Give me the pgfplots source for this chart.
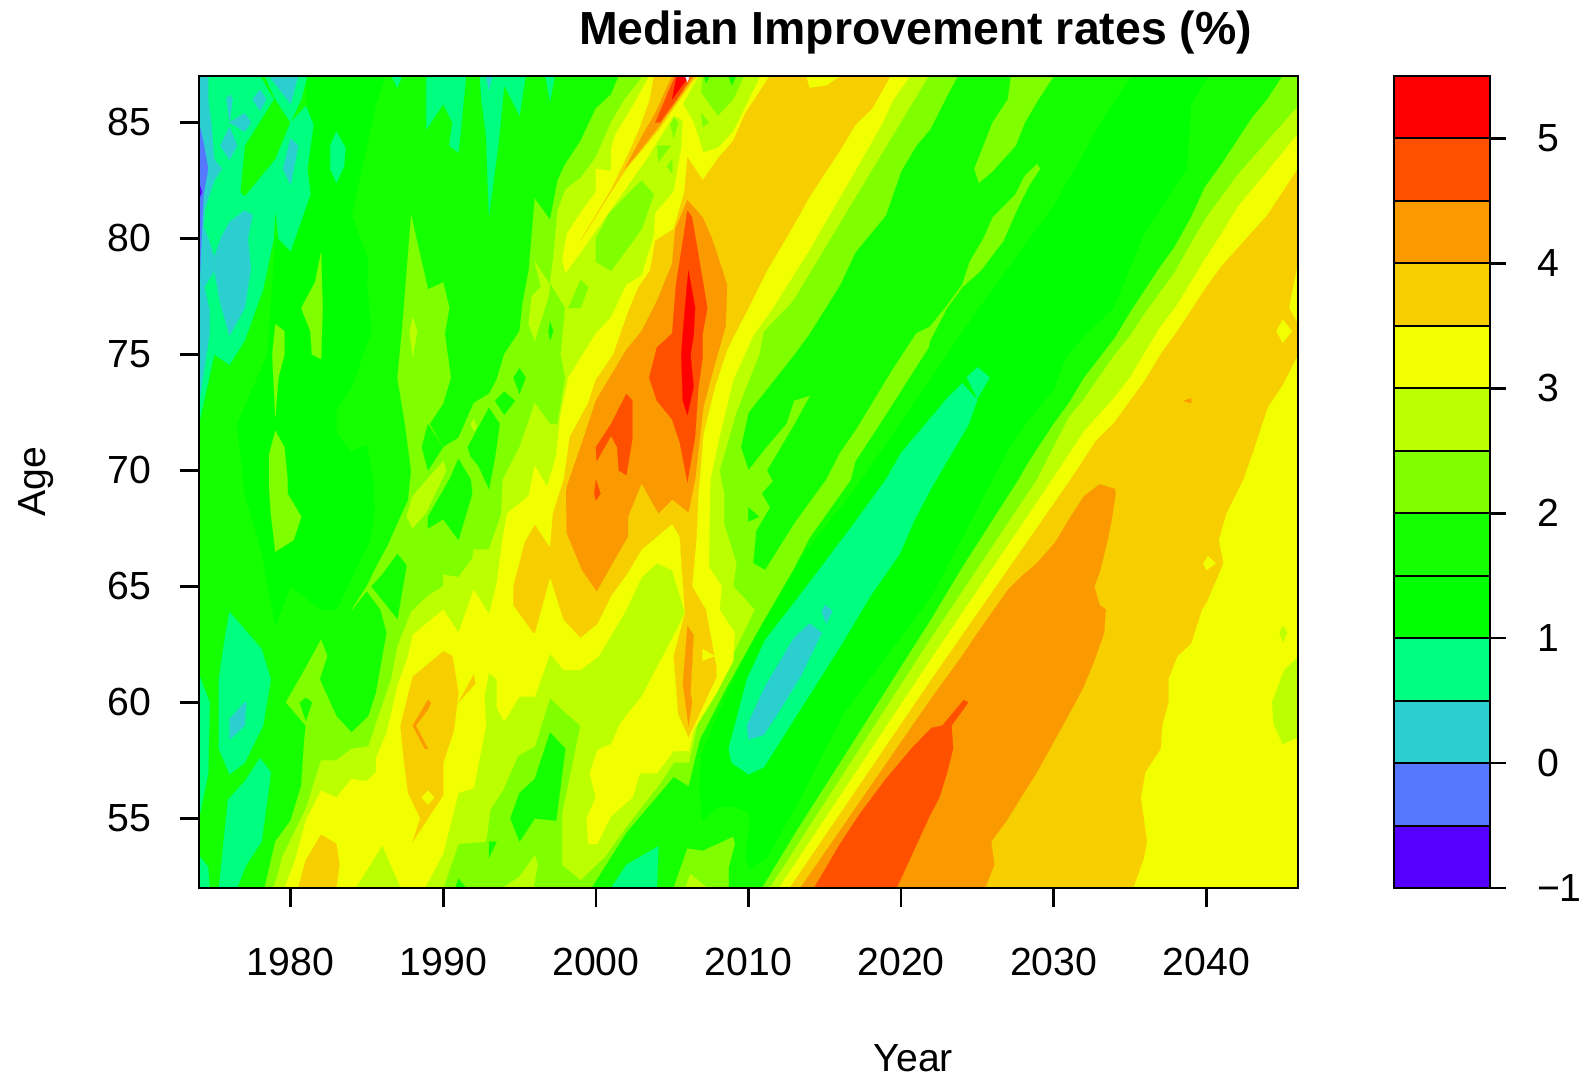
\documentclass[border=0pt]{standalone}
\usepackage{pgfplots}
\pgfplotsset{compat=1.18}
\usepackage{fontspec}
\setmainfont{Liberation Sans}
\definecolor{cA}{HTML}{5500FF}
\definecolor{cB}{HTML}{5578FF}
\definecolor{cC}{HTML}{2CCFCF}
\definecolor{cD}{HTML}{00FF80}
\definecolor{cE}{HTML}{00FF00}
\definecolor{cF}{HTML}{14FF00}
\definecolor{cG}{HTML}{80FF00}
\definecolor{cH}{HTML}{BBFF00}
\definecolor{cI}{HTML}{F2FF00}
\definecolor{cJ}{HTML}{F7CF00}
\definecolor{cK}{HTML}{FA9A00}
\definecolor{cL}{HTML}{FF5000}
\definecolor{cM}{HTML}{FF0000}
\newcommand{\band}[2]{\addplot[draw=#1,line width=0.1pt,fill=#1] coordinates {#2} -- cycle;}
\newcommand{\barseg}[3]{\addplot[draw=black,line width=1pt,fill=#1] coordinates {(0,#2)(1,#2)(1,#3)(0,#3)} -- cycle;}
\newcommand{\lab}{\fontsize{19.6pt}{23pt}\selectfont}
\begin{document}
\begin{tikzpicture}[x=1pt,y=1pt]
\useasboundingbox (0,0) rectangle (792,538.5);
\begin{axis}[
  at={(99.5pt,94.5pt)},anchor=south west,scale only axis,width=549.5pt,height=406pt,
  xmin=1974,xmax=2046,ymin=52,ymax=87,axis on top,
  axis line style={line width=1.3pt},
  tick style={line width=1.3pt,black},tickwidth=9.5pt,tick align=outside,
  xtick={1980,1990,2000,2010,2020,2030,2040},ytick={55,60,65,70,75,80,85},
  xtick pos=lower,ytick pos=left,
  /pgf/number format/assume math mode=true,
  /pgf/number format/set thousands separator={},
  xticklabel style={font=\lab,yshift=-17pt},
  yticklabel style={font=\lab,xshift=-11pt},
  xlabel={Year},ylabel={Age},title={Median Improvement rates (\%)},
  xlabel style={font=\lab,at={(axis description cs:0.65,-0.209)},anchor=center},
  ylabel style={font=\lab,at={(axis description cs:-0.148,0.5)},anchor=center},
  title style={font=\fontsize{23.2pt}{27pt}\selectfont\bfseries,at={(axis description cs:0.652,1.0386)},anchor=center},
]
% base
\band{cF}{(1974,52)(2046,52)(2046,87)(1974,87)}
% below 1.5
\band{cE}{(2035.1,87)(2033.1,85)(2032,83.7)(2030,81.4)(2027,78.7)(2025,76.9)(2021.9,73.9)(2017,69.2)(2013,65.9)(2010.8,63.4)(2008,59.5)(2006.9,57.7)(2006.8,56.2)(2007,54.9)(2008,55.5)(2009,55.5)(2010,55.3)(2010.1,54.9)(2009.8,53.3)(2010.1,52.8)(2011.2,53.3)(2013.5,56)(2016.2,59.5)(2022,64.6)(2023,65.85)(2027,70.9)(2028,71.9)(2030,73.5)(2030.8,74.9)(2032,75.8)(2033.9,77)(2035.9,80.2)(2038.7,83)(2039,85.8)(2040.1,87)}
\band{cE}{(1981,87)(1986.2,87)(1985.6,85.8)(1985,84)(1984,81)(1985.1,79)(1985,78)(1985.3,76)(1984,73.6)(1983,72.6)(1983,71.6)(1984,70.8)(1985,71.1)(1985.4,69.6)(1985.5,68.2)(1985.2,67)(1983,64)(1982,64)(1980,65)(1979,63.3)(1978.1,66.5)(1977,69)(1976.5,72)(1978.5,75)(1979,80)(1981.3,82)}
% below 1
\band{cD}{(1974,72)(1975,75)(1976,74.55)(1977,75.6)(1978.2,77.8)(1978.9,80)(1979,81.3)(1979.2,80)(1980,79.45)(1981.3,81.9)(1981.1,83)(1981.5,84.9)(1981,85.7)(1980,85)(1979,83.4)(1977,81.8)(1976.7,82)(1977,84)(1978.9,86)(1978,87)(1974,87)}
\band{cD}{(1978.3,87)(1979,86)(1980,85)(1980.7,86)(1981.1,87)}
\band{cD}{(1974,61.2)(1974.7,60)(1974.6,56.9)(1974,55)}
\band{cD}{(1974,53.4)(1974.6,52.9)(1974.7,52)(1974,52)}
\band{cD}{(1976,63.9)(1978.1,62.3)(1978.7,61)(1978.2,59)(1977,57.4)(1976,56.9)(1975.3,58)(1975.3,61)(1975.7,62.8)}
\band{cD}{(1978,57.6)(1978.7,57)(1978.6,56.4)(1978.1,54)(1977.1,53)(1976.5,52)(1975.3,52)(1975.9,55.8)(1977,56.6)}
\band{cD}{(1988.9,87)(1988.9,84.7)(1990,85.8)(1990.6,85)(1990.4,84)(1991,83.7)(1991.5,87)}
\band{cD}{(1992.4,87)(1992.5,86)(1992.8,84.5)(1993,81)(1993.6,84)(1994,86.6)(1995,85.3)(1995.4,87)}
\band{cD}{(1996.7,87)(1997,85.9)(1997.3,87)}
\band{cD}{(1986.6,87)(1987,86.5)(1987.3,87)}
\band{cD}{(1982.6,84)(1983,84.6)(1983.6,83.9)(1983.5,83.1)(1983,82.4)(1982.6,83)}
\band{cD}{(2001,52)(2002,53)(2004.1,53.8)(2004,52)}
\band{cD}{(2010,56.9)(2008.9,57.4)(2008.7,58)(2009.9,61)(2011.1,62.7)(2013,64.3)(2016.9,67.7)(2019,69.6)(2020,70.75)(2022.5,72.7)(2023,73.1)(2024,73.75)(2025,73.05)(2024.4,71.95)(2023,70.4)(2021.9,69.15)(2020.9,67.9)(2019.9,66.4)(2018,64.6)(2016,62.4)(2013.4,59.7)(2011,57.2)}
\band{cD}{(2024.3,74)(2025,74.45)(2025.8,74)(2025,73.1)}
% below 0.5
\band{cC}{(1974,87)(1974.6,87)(1974.6,86)(1974.8,85)(1975,83.4)(1975.5,83)(1975,82.5)(1974.4,81.3)(1974.3,80.5)(1974.6,80)(1975,79.2)(1975,78.6)(1974.35,77.9)(1974.7,76.9)(1974.7,75.9)(1974,72.9)}
\band{cC}{(1976,80.7)(1977,81.2)(1977.5,81)(1977.2,80)(1977.4,78.7)(1977,77)(1976,75.8)(1975.4,77.2)(1975,78.6)(1975,79.2)(1975.5,80.1)}
\band{cC}{(1976,86.2)(1976.2,86)(1976,85)(1975.8,86)}
\band{cC}{(1977.5,86)(1978,86.4)(1978.4,86)(1978,85.5)}
\band{cC}{(1976,85)(1977,85.4)(1977.4,85)(1977,84.6)}
\band{cC}{(1975.4,84)(1976,84.8)(1976.5,84)(1976,83.4)}
\band{cC}{(1978.6,87)(1980,85.8)(1980.5,87)}
\band{cC}{(1979.5,83)(1980,84.3)(1980.5,84)(1980,82.3)}
\band{cC}{(1992.8,87)(1993,86.4)(1993.2,87)}
\band{cC}{(1977,60)(1977.1,60)(1977,59)(1976,58.4)(1976,59.3)}
\band{cC}{(2010,58.4)(2011,58.6)(2011.6,59.2)(2013.4,61.1)(2014.8,63)(2014,63.4)(2013,62.8)(2011.1,60.7)(2009.9,59)}
\band{cC}{(2014.8,63.9)(2015,64.2)(2015.5,63.95)(2015.1,63.4)}
% below 0, below -0.5
\band{cB}{(1974,85)(1974.3,84.1)(1974.6,83)(1974.3,81.9)(1974.1,79)(1974,77.5)}
\band{cA}{(1974,82.4)(1974.2,82)(1974,81.7)}
% 2 and above
\band{cG}{(1978.3,52)(1979,54)(1980,54.9)(1980.7,56.4)(1980.9,58.4)(1981,59)(1979.7,60)(1981,61.5)(1982,62.7)(1982.4,62)(1981.9,61)(1983,59.4)(1984,58.7)(1985.1,59.4)(1985.6,60.4)(1986.3,63)(1985.9,64)(1985,64.8)(1984,64)(1985,65)(1985.5,65.7)(1986.4,66.8)(1987,67.7)(1987.7,68.7)(1987.9,70)(1987.5,72)(1987,74)(1987.3,76)(1987.9,81)(1989,77.8)(1990,78.1)(1990.4,77)(1990.1,75.9)(1990.5,74)(1990,72.9)(1989.1,72)(1990,71)(1991,71.4)(1992,72.9)(1993,73.3)(1993.5,73.9)(1994,75)(1995,76)(1995.2,77.2)(1995.6,78.6)(1996,81.7)(1997,80.8)(1997.5,82.5)(1998,83.2)(1999,84.2)(2000,85.6)(2001,86.2)(2001.5,87)(2023.7,87)(2022.9,86)(2021.9,84.7)(2021,84)(2020,82.9)(2019,81)(2017,79.4)(2016,78)(2014,75.9)(2013,75)(2010,72.5)(2009.5,71)(2010,70)(2011.2,71)(2012.5,72)(2013,73)(2014,73.2)(2013,72)(2011.2,70)(2012,69)(2011.2,68.2)(2010.5,67.4)(2010.3,66)(2011.1,65.7)(2013,67.7)(2015.1,69.6)(2016,70.75)(2017.1,71.8)(2019.5,74.4)(2021,75.9)(2021.9,76.2)(2023,77.1)(2024,78)(2024.5,79)(2025.4,80)(2026,80.9)(2027.5,81.9)(2028.1,82.7)(2028.9,83.2)(2029.1,83)(2028.4,82.3)(2027.7,81.4)(2026.7,79.9)(2025.2,78.6)(2024,77.9)(2023,77)(2021.9,75.6)(2021.8,75.3)(2018.4,71.8)(2017,70.4)(2016.7,69.6)(2014,67.1)(2013,65.8)(2010.8,63.3)(2008.6,60.7)(2006.8,58.4)(2006.07,56.4)(2005.1,56.8)(2002,54.4)(1999.7,52)}
\band{cG}{(2045,87)(2044,86)(2043,85.2)(2042,84.2)(2041,83.2)(2039.9,82.2)(2039,80.9)(2037.9,79.6)(2037,78.8)(2035,76.8)(2034,75.7)(2032,74)(2031,72.9)(2030,72)(2028.4,70.4)(2027.7,69.6)(2024,65.8)(2021.9,63.5)(2016.4,57.8)(2013.2,54.5)(2010.9,52)(2046,52)(2046,87)}
\band{cG}{(2027.2,87)(2027,86)(2026,85)(2024.8,83)(2025.1,82.4)(2026,82.9)(2027.5,84)(2028.1,85)(2029,86)(2030,87)}
\band{cG}{(1980.7,77)(1981.6,78.1)(1982,79.4)(1982.1,77)(1982,74.8)(1981.4,75)(1981.3,76)}
\band{cG}{(1978.8,75)(1979,76.3)(1979.6,76)(1979.6,75)(1979.2,74)(1979,72.3)}
\band{cG}{(1979,71.7)(1978.6,70.7)(1978.6,69.2)(1978.7,68.2)(1979,66.5)(1980.2,67)(1980.7,68)(1979.8,69)(1979.8,69.6)(1979.6,71)}
\band{cG}{(2006,53.7)(2007,53.6)(2009,54.2)(2009.1,53.9)(2008.7,52.9)(2008.7,52)(2005.1,52)}
% holes in the 2 band
\band{cF}{(1985.3,65)(1986,65.5)(1987,66.4)(1987.6,65.9)(1987,63.6)}
\band{cF}{(1980.6,60)(1981,60.2)(1981.4,60)(1981,59.2)}
\band{cF}{(1994.4,55)(1995,56.1)(1996,56.7)(1997,58.7)(1998,58)(1997.4,54.9)(1996,55)(1995,54)}
\band{cF}{(1993,54)(1993.5,54)(1993,53.3)}
\band{cF}{(1990.8,52)(1991,52.4)(1991.5,52)}
\band{cF}{(1991,70.5)(1990.4,69.6)(1989,68)(1989,67.5)(1990,67.9)(1991,67)(1991.9,69)(1991.8,69.6)}
\band{cF}{(1991.6,71)(1993,72.7)(1993.7,72)(1993.4,70.6)(1993,69.2)(1992.3,70.2)(1991.8,70.6)}
\band{cF}{(1994.6,74)(1995,74.4)(1995.4,74)(1995,73.3)}
\band{cF}{(1993.4,73)(1994,73.4)(1994.7,73)(1994,72.4)}
\band{cF}{(1989,72)(1990,71)(1989,70)(1988.6,71)}
\band{cF}{(1996.9,76)(1997,76.4)(1997.2,76)(1997,75.6)}
\band{cF}{(2010.9,69)(2011.7,69.6)(2012.4,69)(2011.6,68.2)}
\band{cF}{(2010,68.4)(2010.7,68)(2010,67.8)}
% 2.5 and above
\band{cH}{(1978.9,52)(1979.5,53.4)(1981,55.4)(1982,57.5)(1983,57.5)(1984,58)(1985.1,58.1)(1985.6,59.1)(1986.6,61)(1987,62.4)(1987.9,63.9)(1989,64.6)(1990,65)(1990,65.5)(1991,65.4)(1991.9,66.2)(1992,66.6)(1993,66.6)(1993.8,68.1)(1993.9,69.6)(1995,71)(1996,72.9)(1997,72)(1997.5,72)(1998,74)(1997.7,75)(1998,77)(1997,78.1)(1997.2,79.1)(1997.5,81.2)(1998,82.1)(1999,82.6)(2000,83.5)(2001,85)(2001.9,86)(2003.1,87)(2021.8,87)(2019.5,84.5)(2016.2,80.9)(2012.9,77.3)(2011,76)(2010.7,75)(2009.2,72.5)(2008.1,70)(2008.4,69)(2008.4,67.7)(2009.2,66)(2009,65)(2010.4,64)(2009,62.1)(2006.8,59.5)(2006.1,57.4)(2005.1,57.4)(2004.2,56.5)(2002,54.65)(2000.6,53.35)(1999,52.35)(1997.8,53)(1997.8,55.2)(1998.5,57.4)(1999,59)(1997.7,59.75)(1997,60.2)(1996,58.1)(1994.9,57.7)(1993.9,56.2)(1993.1,55.4)(1992.8,54)(1991,53.9)(1990,52)}
\band{cH}{(2046,85.7)(2042,82.7)(2040,80.9)(2039,79.8)(2037.9,78.5)(2036,76.8)(2035,75.8)(2033.9,74.9)(2031.9,73)(2031,72.3)(2028.9,69.6)(2021.9,62.7)(2011.4,52)(2046,52)}
\band{cH}{(1987.6,68)(1988,68.9)(1990,70.4)(1990.2,70)(1988.9,68.2)(1988,67.5)}
\band{cH}{(1995.6,76.3)(1995.8,77.5)(1996.4,77.9)(1996,79)(1997,78)(1996.9,77.5)(1996,75.6)}
\band{cH}{(1987.8,76)(1988,76.6)(1988.3,76)(1988,74.9)}
\band{cH}{(1991.8,72)(1992,72.2)(1992.2,71.9)(1992,71.7)}
\band{cH}{(1993.9,52)(1995,52.5)(1996,53.4)(1996.2,53)(1995.9,52)}
\band{cH}{(2005.85,52)(2006.2,52.6)(2007.3,52)}
% holes in the 2.5 band
\band{cG}{(1999,78.2)(1999.5,77.9)(1999,77)(1998.2,77)}
\band{cG}{(2000,80)(2000.9,81.1)(2003,82.5)(2003.8,81.9)(2003,80.4)(2001,78.6)(2000,79)}
\band{cG}{(2004,84)(2004.9,84)(2004.1,83.3)}
\band{cG}{(2004.65,83.1)(2005,83.4)(2005,82.8)}
\band{cG}{(2005.1,85.2)(2005.4,85)(2005.1,84.3)(2004.9,84.9)}
\band{cG}{(2006.9,85.4)(2007.4,85)(2007,84.8)}
\band{cG}{(2007,87)(2006.9,86.3)(2008,85.3)(2009,86)(2009.7,87)}
\band{cF}{(2007.1,87)(2007.2,86.7)(2007.5,87)}
\band{cF}{(2008.7,87)(2008.9,86.6)(2009.2,87)}
% 3 and above
\band{cI}{(1979.6,52)(1980.3,53.2)(1981,54.9)(1982,56.2)(1983,55.9)(1984,56.7)(1985,56.6)(1985.6,57)(1985.6,57.6)(1986.3,58.7)(1987,60.7)(1987.7,62)(1988,62.9)(1990,64)(1991,63)(1992,64.85)(1993,63.8)(1993.5,65.1)(1993.9,67.1)(1994.2,68.15)(1995.6,68.9)(1996,70.2)(1996.8,69.3)(1997.4,70.6)(1997.66,72.3)(1998.2,74)(2000,75.9)(2001,76.6)(2002,78)(2003,78.4)(2003.8,80.1)(2003.9,81.1)(2005.1,82)(2005.6,83.9)(2005.7,85.1)(2005.1,85.3)(2003.3,83.4)(2001.9,82.1)(2000.5,80.8)(1999,79.4)(1998,78.5)(1997.8,79.1)(1998.1,80.2)(1999,81.1)(2000,82)(2000,83)(2001,82.9)(2001,83.9)(2001.3,84.5)(2002.5,85.8)(2003.5,87)(2006.7,87)(2005.7,85.8)(2006.4,85)(2007.05,83.7)(2008,83.9)(2009,84.6)(2010.8,87)(2020.6,87)(2019.5,86)(2018.8,85)(2016.9,82.8)(2013.9,79.4)(2011.6,77)(2010.3,75.8)(2009,73.9)(2008.1,71.45)(2007.5,69.6)(2007.4,65.85)(2008.25,65)(2008.1,64)(2009.1,63)(2009,61.8)(2007.9,60.4)(2006.4,58.8)(2006.1,57.9)(2005.1,57.9)(2004,56.95)(2002.9,56.95)(2002.4,55.9)(2001,55.1)(2000.1,53.9)(1999.5,53.9)(1999.4,55)(2000,55.9)(1999.6,56.95)(2000.1,57.95)(2001,58.2)(2001.6,59.1)(2003,60.25)(2005.2,63)(2005.85,63.85)(2005,65.7)(2004,66)(2003,65.4)(2002,64)(2000.2,62)(1999,61.4)(1997.9,61.4)(1997,62.1)(1996,60.25)(1995,60.25)(1994,59.2)(1993.5,59.8)(1993.5,61)(1993,61.3)(1992.7,60.25)(1992.8,59)(1992,56.3)(1991,56.1)(1990,53.5)(1988.8,52)}
\band{cI}{(2046,84.5)(2044,82.9)(2042.1,81.4)(2040.9,80.1)(2040,79.2)(2038,77.05)(2037,76.2)(2035.9,75)(2035,74)(2033.8,73)(2032,71.7)(2029.9,69.6)(2021.9,61.8)(2012,52)(2046,52)}
\band{cH}{(1984.3,52)(1986,53.8)(1987.2,52)}
\band{cH}{(2046,61.95)(2045.1,61.4)(2044.3,60)(2044.4,59.1)(2045,58.2)(2046,58.5)}
\band{cH}{(2044.8,63)(2045,63.3)(2045.3,63)(2045,62.6)}
% 3.5 and above
\band{cJ}{(2011.4,87)(2019.3,87)(2018.1,85.6)(2017,84.9)(2016,83.8)(2014,81.8)(2012.9,80.5)(2011.2,78.6)(2010,77)(2009.2,76)(2008.6,75.2)(2007.8,73.6)(2007.05,71.6)(2006.8,69.6)(2006.7,68.9)(2006.6,67.15)(2006.3,65)(2007.2,64)(2007.9,61.5)(2007.9,61.1)(2006.07,58.5)(2005.4,59.5)(2005.1,62)(2005.85,63.85)(2005.6,66.1)(2005.5,67.15)(2005,67.7)(2003,66.6)(2002,65.5)(2001,64.6)(2000.1,63.4)(1999,62.8)(1997.9,63.56)(1997,65.4)(1996,63)(1995.9,63)(1994.6,64.2)(1994.6,65)(1995.35,66.9)(1996,67.65)(1997,66.65)(1997.2,68.15)(1997.9,69.6)(1998.3,71.45)(1999.5,72.9)(2000,73.9)(2001.15,75)(2002.1,76.8)(2002.8,77.9)(2003.55,78.6)(2003.9,79.9)(2005.1,80.4)(2005.8,82)(2006,83.5)(2006.4,83.1)(2007,82.5)(2008,83.45)(2009,84.2)(2009.8,85.4)}
\band{cJ}{(2046,83)(2044,81)(2042.9,80.2)(2041,78.8)(2040,77.9)(2039,76.9)(2038,75.9)(2037,75)(2036,73.9)(2033.9,72)(2032.8,71.3)(2031.1,69.6)(2021.9,60.9)(2012.7,52)(2035.2,52)(2035.9,53.3)(2036.1,54)(2035.7,55.9)(2036,57)(2037,58)(2037.1,59)(2037.5,60)(2037.5,61)(2038.1,62)(2039,62.55)(2039.7,64)(2040,64.3)(2041.1,66)(2040.8,67)(2041.3,68.15)(2042.4,69.6)(2043.1,70.9)(2044,72.7)(2045,73.7)(2046,75)(2046,76.3)(2045.4,77)(2046,79)}
\band{cJ}{(2003.8,87)(2003.55,86)(2002.9,84.8)(2002.25,83.8)(2001,82.1)(1999,79.9)(2001,82)(2002,83)(2004.2,84.75)(2005.5,86)(2006.6,87)}
\band{cJ}{(1980.5,52)(1981,53.2)(1982,54.3)(1983,53.9)(1983.2,53)(1983,52)}
\band{cJ}{(1988,61.1)(1990,62.2)(1990.6,62)(1991,60.4)(1990.7,58.8)(1990,57.4)(1990,56)(1989,55)(1988,54)(1988.5,55)(1987.7,56.1)(1987.4,57.65)(1987.2,59)}
\band{cJ}{(1991,60)(1992,61.2)(1992.1,60.8)}
\band{cI}{(2013.8,87)(2014,86.5)(2015.1,86.6)(2016,87)}
\band{cI}{(2007,62.3)(2007.8,62)(2007,61.8)}
\band{cI}{(2044.6,76)(2045,76.5)(2045.6,76)(2045,75.5)}
\band{cI}{(2039.8,66)(2040.1,66.3)(2040.6,66)(2040,65.7)}
\band{cI}{(1988.6,55.9)(1989,56.2)(1989.4,55.9)(1989,55.6)}
% 4 and above
\band{cK}{(2006,81.65)(2007,80.9)(2007.6,80)(2008.1,79)(2008.6,78)(2008.5,76.2)(2007.8,74.6)(2007.05,72.75)(2006.5,69.6)(2006.07,68.2)(2005,68.75)(2004.1,68.15)(2003,69.45)(2002.1,68)(2002.1,67.15)(2001,65.9)(2000.06,64.8)(1999.1,65.7)(1998.1,67.3)(1998.05,69)(1998.1,69.3)(1999.1,71.2)(2000,73)(2002,75.2)(2003,76)(2004,77.3)(2005,78.9)(2005.2,80.4)}
\band{cK}{(2005.7,60.8)(2006,63.3)(2006.4,62.9)(2006.2,60.4)(2006.3,60)(2006.07,59)}
\band{cK}{(2005,87)(2003.9,85.4)(2003.1,84.5)(2001.9,83)(2002.9,83.8)(2004.2,84.9)(2005.4,86)(2006.46,87)}
\band{cK}{(1988,59)(1989,60.1)(1989.2,60)(1989,59.7)(1988.2,59)(1989,58)(1988.8,58)}
\band{cK}{(2033,69.4)(2034,69.2)(2034.05,69)(2033.8,67.9)(2033.5,66.9)(2033,65.6)(2032.65,65)(2033,64.2)(2033.4,64)(2033.3,63)(2032.6,61.7)(2031.9,60.6)(2031,59.5)(2028.9,57)(2026.9,54.9)(2025.9,54)(2026.1,53)(2025.5,52)(2013.4,52)(2021.9,60.1)(2024,62)(2024.8,62.8)(2027,64.85)(2028,65.5)(2028.9,66)(2030.1,66.9)(2031.1,68)(2032,68.9)}
\band{cK}{(2038.5,73)(2039,73.1)(2039,72.9)}
% 4.5 and above
\band{cL}{(2006,81.2)(2006.3,80.9)(2007,78.2)(2007.3,77)(2007,75.9)(2007,74.9)(2006.7,73.5)(2006.5,71.45)(2006,69.5)(2005.5,71.2)(2005,72.2)(2004,73)(2003.5,74)(2004,75.3)(2005,75.9)(2005.25,78)(2005.75,80.1)}
\band{cL}{(2000,71)(2001,72)(2002,73.3)(2002.4,73)(2002.4,71.4)(2002,69.8)(2001.5,70)(2001.4,71)(2001,71.5)(2000.05,70.4)}
\band{cL}{(2000,69.6)(2000.3,69)(2000,68.7)(1999.9,69)}
\band{cL}{(2005.2,87)(2003.9,85)(2004.2,85)(2005.4,86.1)(2006.3,87)}
\band{cL}{(2014.3,52)(2016,53.9)(2017.3,55.2)(2019,56.7)(2020.8,58.1)(2022,58.9)(2022.7,59)(2024.1,60.1)(2024.4,60)(2023.3,59)(2023.4,58)(2023,56.95)(2022.5,55.9)(2021.9,55.15)(2020.4,53)(2019.7,52)}
% 5 and above
\band{cM}{(2006.07,78.6)(2006.5,77)(2006.4,75.8)(2006.2,75)(2006.4,73.6)(2006,72.4)(2005.7,73)(2005.6,75)(2005.7,75.9)(2005.96,77.9)}
\band{cM}{(2005.3,87)(2005,86)(2006.1,87)}
\band{white}{(2005.85,87)(2006,86.75)(2006.15,87)}
\end{axis}
\begin{axis}[
  at={(697pt,94.5pt)},anchor=south west,scale only axis,width=48pt,height=406pt,
  xmin=0,xmax=1,ymin=-1,ymax=5.5,axis on top,
  axis line style={line width=1.3pt},
  xtick=\empty,ytick={-1,0,1,2,3,4,5},yticklabels={−1,0,1,2,3,4,5},
  ytick pos=right,tick style={line width=1.3pt,black},tickwidth=8pt,tick align=outside,
  yticklabel style={font=\lab,xshift=12pt},
  /pgf/number format/assume math mode=true,
]
\barseg{cA}{-1}{-0.5}
\barseg{cB}{-0.5}{0}
\barseg{cC}{0}{0.5}
\barseg{cD}{0.5}{1}
\barseg{cE}{1}{1.5}
\barseg{cF}{1.5}{2}
\barseg{cG}{2}{2.5}
\barseg{cH}{2.5}{3}
\barseg{cI}{3}{3.5}
\barseg{cJ}{3.5}{4}
\barseg{cK}{4}{4.5}
\barseg{cL}{4.5}{5}
\barseg{cM}{5}{5.5}
\end{axis}
\end{tikzpicture}
\end{document}
